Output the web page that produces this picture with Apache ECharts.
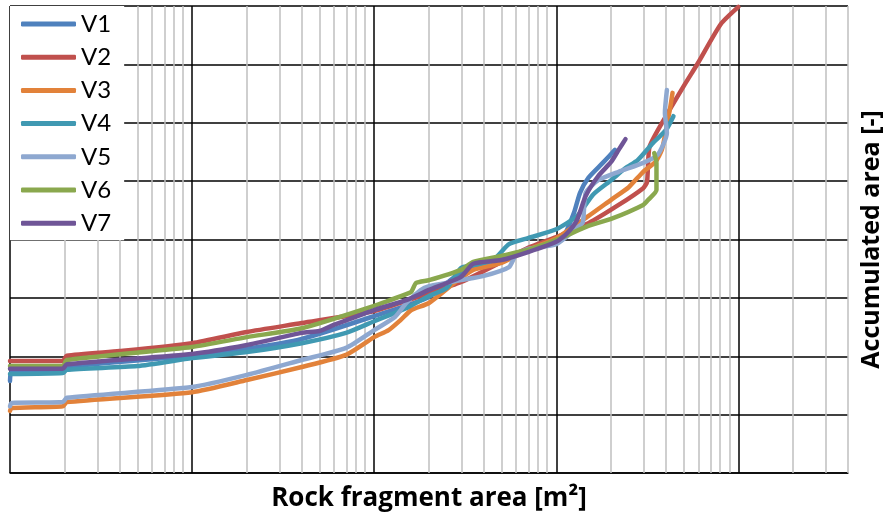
<!DOCTYPE html>
<html>
<head>
<meta charset="utf-8">
<script src="https://cdn.jsdelivr.net/npm/echarts@6/dist/echarts.min.js"></script>
<style>
html, body { margin: 0; padding: 0; background: #fff; }
#main { width: 890px; height: 518px; }
</style>
</head>
<body>
<div id="main"></div>
<script>
// rock fragment area [m2] vs accumulated area [-]
var names = ['V1', 'V2', 'V3', 'V4', 'V5', 'V6', 'V7'];
var colors = ['#4f81bd', '#c0504d', '#e2823a', '#4099b2', '#8ea8d0', '#8aa84e', '#6f5597'];

var v1 = [[1e-5,0.197],[1.02e-5,0.216],[1.95e-5,0.218],[2.05e-5,0.227],[1e-4,0.251],[2e-4,0.266],[4e-4,0.287],
    [1e-3,0.336],[2e-3,0.377],[3e-3,0.430],[5e-3,0.462],[7e-3,0.478],[1e-2,0.495],[1.1e-2,0.507],[1.25e-2,0.557],
    [1.35e-2,0.600],[1.5e-2,0.632],[1.8e-2,0.664],[2.1e-2,0.692]];
var v2 = [[1e-5,0.240],[1.95e-5,0.240],[2.05e-5,0.251],[4e-5,0.261],[1e-4,0.278],[2e-4,0.302],[4e-4,0.321],
    [1e-3,0.347],[2e-3,0.385],[3e-3,0.409],[5e-3,0.452],[7e-3,0.482],[1e-2,0.505],[1.5e-2,0.535],[2.2e-2,0.574],
    [3e-2,0.610],[3.15e-2,0.623],[3.25e-2,0.698],[3.8e-2,0.749],[5e-2,0.828],[6e-2,0.878],[8e-2,0.961],[0.1,0.998]];
var v3 = [[1e-5,0.133],[1.02e-5,0.139],[1.95e-5,0.143],[2.05e-5,0.152],[1e-4,0.173],[2e-4,0.199],[4e-4,0.227],
    [7e-4,0.253],[1e-3,0.291],[1.2e-3,0.306],[1.4e-3,0.328],[1.6e-3,0.349],[2e-3,0.364],[2.8e-3,0.409],[3.5e-3,0.435],
    [5e-3,0.450],[7e-3,0.478],[1e-2,0.503],[1.5e-2,0.550],[2e-2,0.585],[2.5e-2,0.612],[3e-2,0.645],[3.5e-2,0.666],
    [3.8e-2,0.692],[4e-2,0.734],[4.2e-2,0.777],[4.35e-2,0.814]];
var v4 = [[1e-5,0.212],[1.95e-5,0.214],[2.05e-5,0.221],[5e-5,0.229],[1e-4,0.246],[2e-4,0.259],[4e-4,0.278],
    [7e-4,0.300],[1e-3,0.325],[1.5e-3,0.353],[2e-3,0.379],[2.5e-3,0.396],[3e-3,0.439],[3.5e-3,0.445],[4.5e-3,0.456],
    [5.5e-3,0.490],[7e-3,0.503],[1e-2,0.522],[1.3e-2,0.550],[1.6e-2,0.597],[2e-2,0.627],[2.4e-2,0.653],[2.8e-2,0.670],
    [3.4e-2,0.707],[4e-2,0.734],[4.4e-2,0.764]];
var v5 = [[1e-5,0.143],[1.02e-5,0.150],[1.95e-5,0.152],[2.05e-5,0.161],[1e-4,0.184],[2e-4,0.210],[4e-4,0.242],
    [7e-4,0.268],[1e-3,0.306],[1.3e-3,0.334],[1.5e-3,0.364],[1.8e-3,0.392],[2e-3,0.400],[3e-3,0.413],[4e-3,0.422],
    [5.5e-3,0.441],[6e-3,0.467],[7e-3,0.480],[1e-2,0.490],[1.3e-2,0.525],[1.4e-2,0.537],[1.45e-2,0.600],[1.7e-2,0.627],
    [2.2e-2,0.645],[3e-2,0.664],[3.6e-2,0.681],[4.05e-2,0.728],[3.95e-2,0.771],[4.05e-2,0.820]];
var v6 = [[1e-5,0.229],[1.95e-5,0.229],[2.05e-5,0.242],[1e-4,0.270],[2e-4,0.291],[4e-4,0.310],[1e-3,0.358],
    [1.5e-3,0.383],[1.6e-3,0.388],[1.7e-3,0.407],[2e-3,0.413],[3e-3,0.435],[3.5e-3,0.452],[5e-3,0.465],[7e-3,0.478],
    [1e-2,0.499],[1.5e-2,0.529],[2e-2,0.544],[3e-2,0.574],[3.2e-2,0.585],[3.55e-2,0.606],[3.55e-2,0.664],[3.45e-2,0.685]];
var v7 = [[1e-5,0.223],[1.95e-5,0.223],[2.05e-5,0.233],[1e-4,0.255],[2e-4,0.274],[4e-4,0.300],[5e-4,0.304],
    [6e-4,0.317],[1e-3,0.349],[1.5e-3,0.370],[2e-3,0.392],[3e-3,0.420],[3.5e-3,0.448],[5e-3,0.456],[7e-3,0.473],
    [1e-2,0.495],[1.15e-2,0.514],[1.3e-2,0.542],[1.45e-2,0.593],[1.7e-2,0.636],[2e-2,0.666],[2.2e-2,0.692],[2.4e-2,0.715]];
var seriesData = [v1, v2, v3, v4, v5, v6, v7];

// minor grid lines at 2..9 of each decade
var decades = [1e-5, 1e-4, 1e-3, 1e-2, 1e-1];
var mantissas = [2, 3, 4, 5, 6, 7, 8, 9];
var xMin = 1e-5, xMax = 0.4;

// markLine on a log axis drops small values, so the minor lines go on a
// hidden linear helper axis that spans the same decades (log10 of value)
var minorLines = [];
decades.forEach(function (d) {
    mantissas.forEach(function (m) {
        var v = d * m;
        if (v <= xMax * 1.0001) minorLines.push({ xAxis: Math.log10(v) });
    });
});

var font = '"Open Sans", Lato, "Liberation Sans", sans-serif';

var series = seriesData.map(function (data, i) {
    return {
        name: names[i],
        type: 'line',
        data: data,
        symbol: 'none',
        showSymbol: false,
        smooth: 0.2,
        z: 3,
        lineStyle: { width: 4.5, color: colors[i], cap: 'round', join: 'round' },
        itemStyle: { color: colors[i] }
    };
});

series.unshift({
    name: 'minor',
    type: 'line',
    xAxisIndex: 1,
    data: [[Math.log10(xMin), 0]],
    symbol: 'none',
    silent: true,
    z: 1,
    lineStyle: { opacity: 0 },
    markLine: {
        silent: true,
        z: 1,
        symbol: ['none', 'none'],
        label: { show: false },
        lineStyle: { color: '#bfbfbf', width: 1.5, type: 'solid' },
        data: minorLines,
        animation: false
    }
});

var myChart = echarts.init(document.getElementById('main'));
var option = {
    animation: false,
    backgroundColor: '#fff',
    grid: { left: 10, right: 42, top: 6, bottom: 45, containLabel: false, outerBoundsMode: 'none' },
    legend: {
        orient: 'vertical',
        left: 10,
        top: 6,
        backgroundColor: '#fff',
        padding: [4, 13, 3, 11],
        itemWidth: 55,
        itemHeight: 5,
        itemGap: 5.2,
        icon: 'roundRect',
        textStyle: { fontFamily: 'Lato, "Liberation Sans", sans-serif', fontSize: 24, lineHeight: 28, color: '#000' },
        data: names
    },
    xAxis: [{
        type: 'log',
        logBase: 10,
        min: xMin,
        max: xMax,
        name: 'Rock fragment area [m²]',
        nameLocation: 'middle',
        nameGap: 13,
        nameTextStyle: { fontFamily: font, fontWeight: 'bold', fontSize: 26, color: '#000', verticalAlign: 'top' },
        axisLine: { show: true, lineStyle: { color: '#000', width: 1.5 } },
        axisTick: { show: false },
        axisLabel: { show: false },
        splitLine: { show: true, showMaxLine: false, lineStyle: { color: '#000', width: 1.5 } }
    }, {
        type: 'value',
        min: Math.log10(xMin),
        max: Math.log10(xMax),
        show: false,
        splitLine: { show: false }
    }],
    yAxis: {
        type: 'value',
        min: 0,
        max: 1,
        interval: 0.125,
        position: 'right',
        name: 'Accumulated area [-]',
        nameLocation: 'middle',
        nameRotate: 90,
        nameGap: 11,
        nameTextStyle: { fontFamily: font, fontWeight: 'bold', fontSize: 25, color: '#000' },
        axisLine: { show: false },
        axisTick: { show: false },
        axisLabel: { show: false },
        splitLine: { show: true, lineStyle: { color: '#000', width: 1.5 } }
    },
    series: series
};
myChart.setOption(option);
</script>
</body>
</html>
